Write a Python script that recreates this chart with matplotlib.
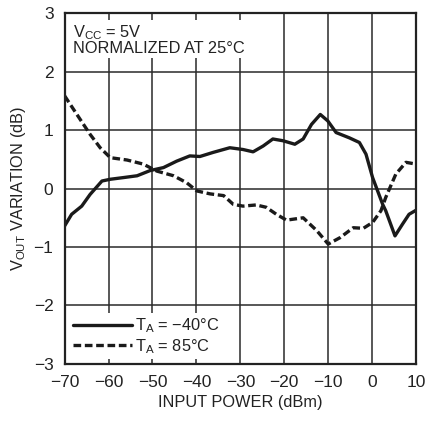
import matplotlib
matplotlib.use("Agg")
import matplotlib.pyplot as plt
from matplotlib import font_manager

names = {f.name for f in font_manager.fontManager.ttflist}
fam = ['Liberation Sans Narrow', 'DejaVu Sans'] if 'Liberation Sans Narrow' in names else ['Liberation Sans', 'DejaVu Sans']
plt.rcParams['font.family'] = fam
plt.rcParams['mathtext.fontset'] = 'custom'
plt.rcParams['mathtext.rm'] = fam[0]

# Data
cold_x = [-70, -68.4, -66.1, -64.2, -61.5, -59.6, -56.5, -53.5, -50.5, -47.5, -44.5, -41.5, -39.2,
          -36.2, -32.4, -29.4, -27.1, -24.8, -22.6, -20.3, -17.6, -15.7, -13.8, -11.8, -10.1, -8.2,
          -5.2, -2.9, -1.4, 0.1, 2.4, 3.1, 5.2, 6.9, 8.4, 10]
cold_y = [-0.64, -0.44, -0.30, -0.10, 0.13, 0.16, 0.19, 0.22, 0.31, 0.36, 0.47, 0.56, 0.55,
          0.62, 0.70, 0.67, 0.63, 0.73, 0.85, 0.82, 0.76, 0.85, 1.10, 1.27, 1.16, 0.96,
          0.87, 0.79, 0.59, 0.19, -0.27, -0.38, -0.81, -0.61, -0.44, -0.37]
hot_x = [-70, -67.2, -64.2, -61.9, -59.6, -55.8, -52.1, -49, -45.2, -42.2, -39.9, -36.9, -33.8,
         -31.6, -29.4, -26.4, -24.1, -21.8, -19.5, -15.7, -12.6, -10, -7.3, -4.3, -2, 0.1, 2,
         3.1, 5.4, 7.7, 10]
hot_y = [1.59, 1.27, 0.93, 0.70, 0.53, 0.49, 0.42, 0.30, 0.22, 0.10, -0.04, -0.09, -0.12,
         -0.27, -0.30, -0.28, -0.32, -0.44, -0.54, -0.50, -0.72, -0.95, -0.84, -0.67, -0.68, -0.58, -0.38,
         -0.15, 0.25, 0.45, 0.42]
xticks = [-70, -60, -50, -40, -30, -20, -10, 0, 10]
xticklabels = ['\u221270', '\u221260', '\u221250', '\u221240', '\u221230', '\u221220', '\u221210', '0', '10']
yticks = [-3, -2, -1, 0, 1, 2, 3]
yticklabels = ['\u22123', '\u22122', '\u22121', '0', '1', '2', '3']

fs = 11.8
fig = plt.figure(figsize=(4.25, 4.21), dpi=100)
ax = fig.add_axes([0.152, 0.136, 0.827, 0.832])
ax.set_xlim(-70, 10)
ax.set_ylim(-3, 3)
ax.set_xticks(xticks)
ax.set_xticklabels(xticklabels)
ax.set_yticks(yticks)
ax.set_yticklabels(yticklabels)
ax.tick_params(axis='x', length=0, labelsize=12.5, pad=8, colors='#222222')
ax.tick_params(axis='y', length=0, labelsize=12.5, pad=8, colors='#222222')
ax.grid(True, color='#2a2a2a', lw=1.1)
ax.set_axisbelow(True)
for s in ax.spines.values():
    s.set_linewidth(1.6)
    s.set_color('#222222')

ax.plot(cold_x, cold_y, color='#1a1a1a', lw=2.4, solid_joinstyle='round', solid_capstyle='round',
        label='T$_{\\mathregular{A}}$ = \u221240\u00b0C')
ax.plot(hot_x, hot_y, color='#1a1a1a', lw=2.4, ls=(0, (2.3, 1.1)),
        label='T$_{\\mathregular{A}}$ = 85\u00b0C')

ax.text(0.025, 0.972, 'V$_{\\mathregular{CC}}$ = 5V\nNORMALIZED AT 25\u00b0C', transform=ax.transAxes,
        ha='left', va='top', fontsize=fs, color='#222222', linespacing=0.95,
        bbox=dict(facecolor='white', edgecolor='none', pad=1))

leg = ax.legend(loc='lower left', frameon=True, fontsize=fs, handlelength=3.6, handletextpad=0.2,
                labelspacing=0.1, borderpad=0.2, borderaxespad=0.3, facecolor='white', edgecolor='none',
                framealpha=1)
for t in leg.get_texts():
    t.set_color('#222222')

ax.set_xlabel('INPUT POWER (dBm)', fontsize=fs, color='#222222', labelpad=4)
ax.set_ylabel('V$_{\\mathregular{OUT}}$ VARIATION (dB)', fontsize=fs, color='#222222', labelpad=4)

fig.savefig('out.png', dpi=100)
